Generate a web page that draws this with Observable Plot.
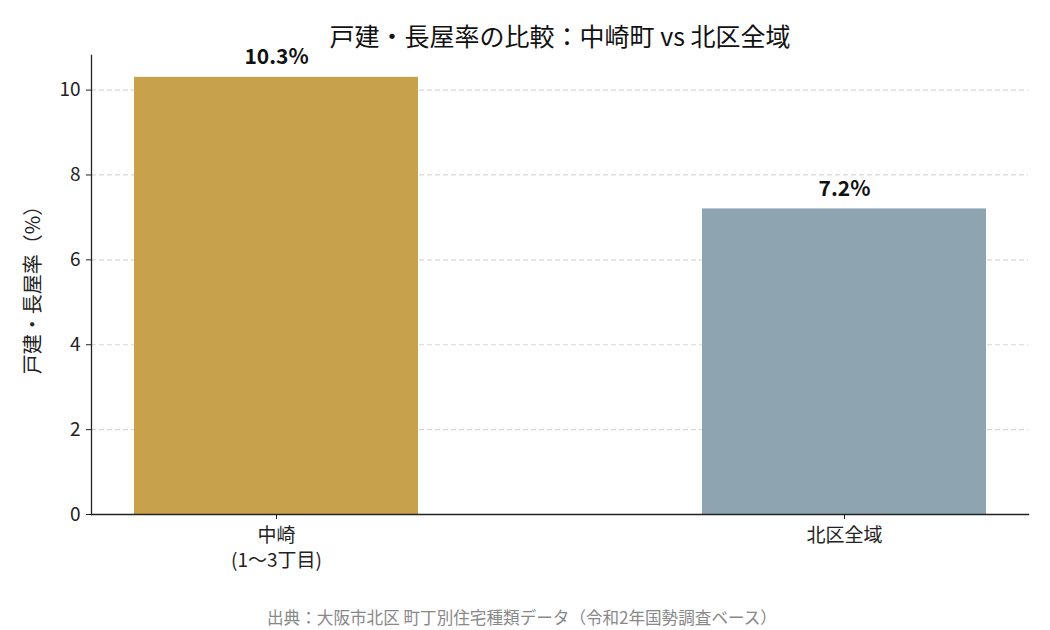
<!DOCTYPE html>
<html><head><meta charset="utf-8">
<script src="https://cdn.jsdelivr.net/npm/d3@7"></script>
<script src="https://cdn.jsdelivr.net/npm/@observablehq/plot@0.6"></script>
<style>
body{margin:0;background:#fff;font-family:"Noto Sans CJK JP","Noto Sans",sans-serif;}
#title{height:45px;box-sizing:border-box;padding-top:23px;font-size:25px;line-height:24px;text-align:center;color:#111;padding-left:70px;white-space:nowrap;}
#caption{box-sizing:border-box;padding-top:18px;font-size:16.6px;line-height:18px;text-align:center;color:#888;padding-right:6px;white-space:nowrap;}
svg{overflow:visible}
</style></head>
<body>
<div id="title">戸建・長屋率の比較：中崎町 vs 北区全域</div>
<div id="chart"></div>
<div id="caption">出典：大阪市北区 町丁別住宅種類データ（令和2年国勢調査ベース）</div>
<script>
const categories = ["中崎\n(1〜3丁目)", "北区全域"];
const values = [10.3, 7.2];
const colors = ["#C8A24A", "#8FA4B1"];
const yTicks = [0, 2, 4, 6, 8, 10];
const gridTicks = [2, 4, 6, 8, 10];
const data = categories.map((c, i) => ({cat: c, value: values[i], color: colors[i]}));

const plot = Plot.plot({
  width: 1050,
  height: 545,
  marginLeft: 91,
  marginRight: 22,
  marginTop: 10,
  marginBottom: 76,
  style: {fontFamily: '"Noto Sans CJK JP","Noto Sans",sans-serif', fontSize: "20px", color: "#222", overflow: "visible"},
  x: {domain: categories, paddingInner: 0.5, paddingOuter: 0.0748, align: 0.5, label: null},
  y: {domain: [0, 10.815], label: null},
  marks: [
    Plot.ruleY(gridTicks, {stroke: "#d8d8d8", strokeWidth: 1.2, strokeDasharray: "5,3"}),
    Plot.barY(data, {x: "cat", y: "value", fill: "color"}),
    Plot.text(data, {x: "cat", y: "value", text: d => d.value.toFixed(1) + "%", dy: -20, fontSize: 21, fontWeight: "bold", fill: "#111"}),
    Plot.axisY({ticks: yTicks, tickSize: 5, tickPadding: 6, fontSize: 19, stroke: "#222", fill: "#222", label: null}),
    Plot.axisX({tickSize: 5, tickPadding: 5, fontSize: 19, stroke: "#222", fill: "#222", label: null, lineHeight: 1.3}),
    Plot.frame({anchor: "left", stroke: "#222", strokeWidth: 1.3}),
    Plot.frame({anchor: "bottom", stroke: "#222", strokeWidth: 1.3}),
    Plot.text(["戸建・長屋率（%）"], {frameAnchor: "left", dx: -58, rotate: -90, textAnchor: "middle", fontSize: 20, fill: "#222"})
  ]
});
document.getElementById("chart").appendChild(plot);
</script>
</body></html>
